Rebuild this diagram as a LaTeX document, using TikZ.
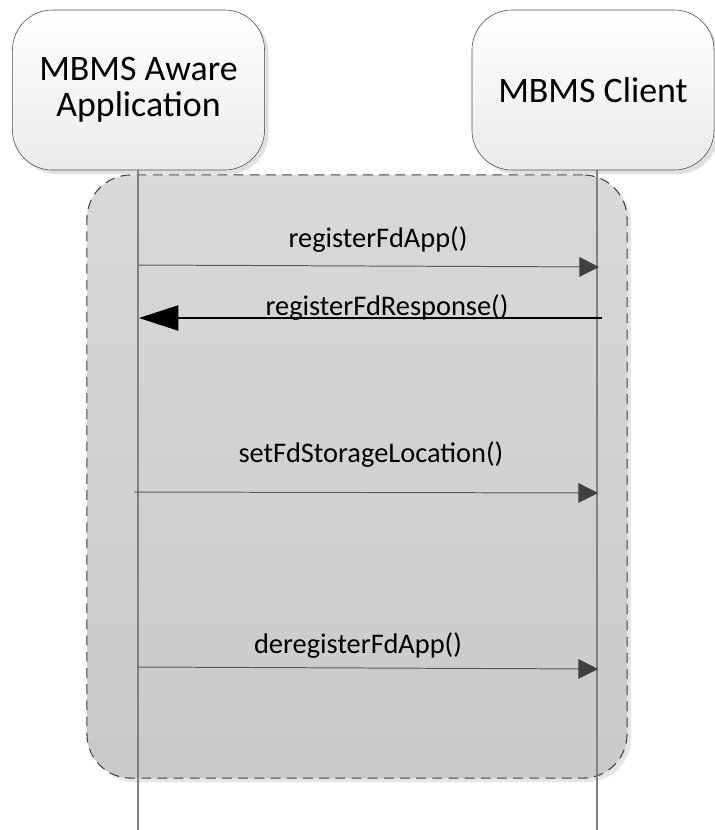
\documentclass[tikz,border=0pt]{standalone}
\usepackage{fontspec}
\setmainfont{Carlito}
\usepackage{tikz}
\usetikzlibrary{shapes,positioning,arrows.meta,shadows}
\tikzset{actor/.style={rectangle,rounded corners=1cm,draw=black!70,top color=white,bottom color=black!8,minimum width=6.3cm,minimum height=4cm,align=center,font=\fontsize{25.5}{27.5}\selectfont,drop shadow={shadow xshift=0.1cm,shadow yshift=-0.1cm,fill=black!12,opacity=1}}}
\tikzset{frame/.style={rectangle,rounded corners=1.1cm,draw=black!75,line width=0.75pt,dash pattern=on 7pt off 4.5pt,top color=black!15,bottom color=black!21,minimum width=13.5cm,minimum height=15.075cm,drop shadow={shadow xshift=0.1cm,shadow yshift=-0.1cm,fill=black!10,opacity=1}}}
\tikzset{lifeline/.style={draw=black!50,line width=0.8pt}}
\tikzset{call/.style={draw=black!65,line width=0.7pt,-{Triangle[length=14pt,width=14pt,color=black!75]}}}
\tikzset{reply/.style={draw=black,line width=0.8pt,-{Triangle[length=28pt,width=18pt]}}}
\tikzset{msg/.style={anchor=base,inner sep=0pt,font=\fontsize{20.2}{24}\selectfont}}

\begin{document}
\begin{tikzpicture}[x=0.025cm,y=-0.025cm]
    \useasboundingbox (0,0) rectangle (715,830);

    \node[frame] (seq) at (357,476.5) {};

    \node[actor] (app) at (138.5,90) {MBMS Aware\\[-2pt]Application};
    \node[actor,minimum width=6.05cm] (cli) at (593,90) {MBMS Client};

    \coordinate (appEnd) at (138,830);
    \coordinate (cliEnd) at (597,830);
    \draw[lifeline] (app.south -| appEnd) -- (appEnd);
    \draw[lifeline] (cli.south -| cliEnd) -- (cliEnd);

    \coordinate (m1a) at (138,265);
    \coordinate (m1c) at (599,267);
    \coordinate (m2c) at (602,318);
    \coordinate (m2a) at (139,318);
    \coordinate (m3a) at (134,492);
    \coordinate (m3c) at (598,493);
    \coordinate (m4a) at (138,667);
    \coordinate (m4c) at (598,669);

    \draw[call] (m1a) -- (m1c);
    \node[msg] (l1) at (378,247) {registerFdApp()};
    \draw[reply] (m2c) -- (m2a);
    \node[msg] (l2) at (387,315) {registerFdResponse()};
    \draw[call] (m3a) -- (m3c);
    \node[msg] (l3) at (371,462) {setFdStorageLocation()};
    \draw[call] (m4a) -- (m4c);
    \node[msg] (l4) at (358,653) {deregisterFdApp()};
\end{tikzpicture}
\end{document}
